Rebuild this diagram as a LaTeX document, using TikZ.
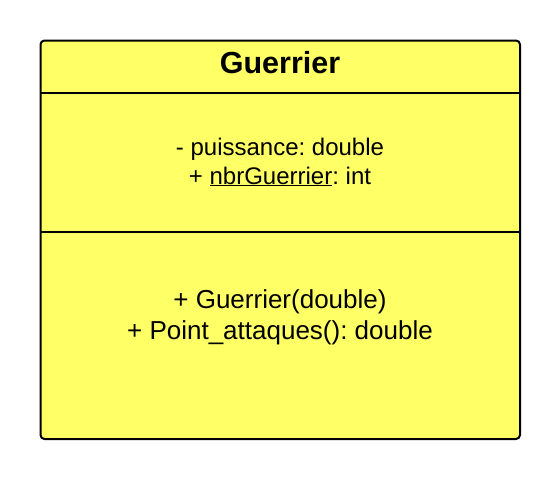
\documentclass[tikz,border=0pt]{standalone}
\usepackage{fontspec}
\setmainfont{Liberation Sans}
\frenchspacing
\definecolor{umlyellow}{HTML}{FFFF66}
\begin{document}
\begin{tikzpicture}[x=1pt,y=-1pt,
  classbox/.style={draw=black,line width=2pt,fill=umlyellow,rounded corners=4pt},
  divider/.style={draw=black,line width=1.6pt},
  attr/.style={anchor=base,inner sep=0pt,font=\fontsize{24}{28}\selectfont\frenchspacing},
  meth/.style={anchor=base,inner sep=0pt,font=\fontsize{26}{30}\selectfont\frenchspacing},
  ttl/.style={anchor=base,inner sep=0pt,font=\fontsize{30.5}{34}\selectfont\bfseries}]
\useasboundingbox (0,0) rectangle (560,480);
\path[classbox] (40.5,40.5) rectangle (520,439) coordinate (br);
\coordinate (d1l) at (40.5,93); \coordinate (d1r) at (520,93);
\coordinate (d2l) at (40.5,232); \coordinate (d2r) at (520,232);
\draw[divider] (d1l) -- (d1r);
\draw[divider] (d2l) -- (d2r);
\node[ttl] (title) at (280,73) {Guerrier};
\node[attr] (a1) at (280,155) {- puissance: double};
\node[attr] (a2) at (280,184) {+ \underline{nbrGuerrier}: int};
\node[meth] (m1) at (280,308) {+ Guerrier(double)};
\node[meth] (m2) at (280,339) {+ Point\_attaques(): double};
\end{tikzpicture}
\end{document}
